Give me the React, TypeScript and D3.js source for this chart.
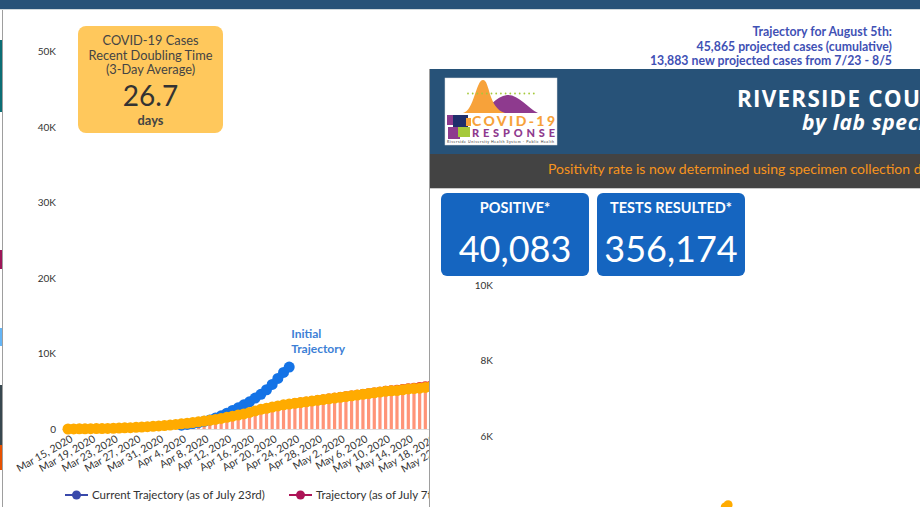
import React, { useRef, useEffect } from 'react';
import * as d3 from 'd3';

// left chart: cumulative cases per day from Mar 15, 2020
const xTickLabels = [
  'Mar 15, 2020', 'Mar 19, 2020', 'Mar 23, 2020', 'Mar 27, 2020', 'Mar 31, 2020',
  'Apr 4, 2020', 'Apr 8, 2020', 'Apr 12, 2020', 'Apr 16, 2020', 'Apr 20, 2020',
  'Apr 24, 2020', 'Apr 28, 2020', 'May 2, 2020', 'May 6, 2020', 'May 10, 2020',
  'May 14, 2020', 'May 18, 2020', 'May 22, 2020'
];
const yTickValues = [0, 10000, 20000, 30000, 40000, 50000];

const cumulativeCases = [
  0, 10, 20, 30, 40, 50, 60, 80, 100, 120,
  150, 180, 220, 260, 300, 350, 400, 460, 520, 600,
  680, 760, 850, 950, 1050, 1150, 1270, 1400, 1550, 1700,
  1850, 2000, 2200, 2400, 2600, 2750, 2900, 3050, 3200, 3300,
  3400, 3500, 3600, 3700, 3800, 3900, 4000, 4100, 4200, 4300,
  4400, 4500, 4600, 4700, 4800, 4900, 5000, 5050, 5100, 5200,
  5300, 5350, 5400, 5500, 5600, 5650, 5700
];

const initialStart = 20;
const initialTrajectory = [
  500, 600, 720, 860, 1020, 1200, 1450, 1750, 2100, 2450,
  2800, 3200, 3600, 4100, 4600, 5200, 5900, 6700, 7500, 8200
];

const july7Start = 40;
const july7Trajectory = [
  3400, 3500, 3600, 3700, 3800, 3900, 4050, 4150, 4250, 4350,
  4450, 4550, 4650, 4750, 4850, 4950, 5050, 5120, 5200, 5300,
  5400, 5470, 5550, 5650, 5750, 5850, 5950
];

const legendNames = ['Current Trajectory (as of July 23rd)', 'Trajectory (as of July 7th)'];
const legendColors = ['#3949ab', '#ad1457'];

const projectionLines = [
  'Trajectory for August 5th:',
  '45,865 projected cases (cumulative)',
  '13,883 new projected cases from 7/23 - 8/5'
];
const doublingLines = ['COVID-19 Cases', 'Recent Doubling Time', '(3-Day Average)'];
const doublingDays = '26.7';

// overlay dashboard
const kpiLabels = ['POSITIVE*', 'TESTS RESULTED*'];
const kpiValues = [40083, 356174];
const testTicks = [6000, 8000, 10000];
const testDates = ['2020-05-20', '2020-05-21'];
const testValues = [4120, 4180];

const FONT = 'Lato, "Open Sans", sans-serif';

const App = () => {
  const ref = useRef<SVGSVGElement>(null);

  useEffect(() => {
    const svg = d3.select(ref.current);
    svg.selectAll('*').remove();

    // background page
    svg.append('rect').attr('width', 920).attr('height', 507).attr('fill', '#fff');
    svg.append('rect').attr('width', 920).attr('height', 9).attr('fill', '#275278');
    svg.append('line').attr('x1', 0).attr('x2', 920).attr('y1', 9.5).attr('y2', 9.5)
      .attr('stroke', '#cfd8dc');

    const slivers: [number, number, string][] = [
      [40, 112, '#0b6e75'], [250, 269, '#9c1558'], [328, 346, '#64b5f6'],
      [385, 445, '#37474f'], [445, 470, '#e65100']
    ];
    slivers.forEach(([a, b, c]) => {
      svg.append('rect').attr('x', 0).attr('y', a).attr('width', 2).attr('height', b - a).attr('fill', c);
    });
    svg.append('line').attr('x1', 2.5).attr('x2', 2.5).attr('y1', 10).attr('y2', 507)
      .attr('stroke', '#9e9e9e');

    // scales
    const parse = d3.timeParse('%b %d, %Y');
    const start = parse(xTickLabels[0]) as Date;
    const dayDate = (i: number) => d3.timeDay.offset(start, i);
    const x = d3.scaleTime()
      .domain([start, parse('May 18, 2020') as Date])
      .range([68, 431]);
    const y = d3.scaleLinear().domain([0, 50000]).range([429, 51.5]);

    const chart = svg.append('g');

    // y axis
    const yAxis = chart.append('g')
      .attr('transform', 'translate(56,0)')
      .call(d3.axisLeft(y).tickValues(yTickValues).tickSize(0).tickPadding(0)
        .tickFormat(d => (+d === 0 ? '0' : d3.format('~s')(+d).replace('k', 'K'))));
    yAxis.select('.domain').remove();
    yAxis.selectAll('text').attr('font-family', FONT).attr('font-size', 10).attr('fill', '#333');

    chart.append('line').attr('x1', 62).attr('x2', 431).attr('y1', 429.5).attr('y2', 429.5)
      .attr('stroke', '#ddd');

    // x axis
    const xAxis = chart.append('g')
      .attr('transform', 'translate(0,429)')
      .call(d3.axisBottom(x).tickValues(xTickLabels.map(s => parse(s) as Date))
        .tickSize(0).tickFormat(d => d3.timeFormat('%b %-d, %Y')(d as Date)));
    xAxis.select('.domain').remove();
    xAxis.selectAll('text')
      .attr('y', 0).attr('dy', 0)
      .attr('text-anchor', 'end')
      .attr('transform', 'translate(5,12) rotate(-30)')
      .attr('font-family', FONT).attr('font-size', 10.5).attr('fill', '#333');

    // bars
    chart.append('g').selectAll('rect')
      .data(cumulativeCases)
      .enter().append('rect')
      .attr('x', (d, i) => x(dayDate(i)) - 1.6)
      .attr('width', 3.2)
      .attr('y', d => y(d))
      .attr('height', d => 429 - y(d))
      .attr('fill', '#ff9478');

    const line = d3.line<[number, number]>()
      .x(d => x(dayDate(d[0])))
      .y(d => y(d[1]));

    // July 7 trajectory
    const july7Pts: [number, number][] = july7Trajectory.map((v, i) => [july7Start + i, v]);
    chart.append('path').datum(july7Pts).attr('d', line)
      .attr('fill', 'none').attr('stroke', '#e53935').attr('stroke-width', 2);
    chart.append('g').selectAll('circle').data(july7Pts).enter().append('circle')
      .attr('cx', d => x(dayDate(d[0]))).attr('cy', d => y(d[1])).attr('r', 5)
      .attr('fill', '#e53935');

    // initial trajectory
    const initPts: [number, number][] = initialTrajectory.map((v, i) => [initialStart + i, v]);
    chart.append('path').datum(initPts).attr('d', line)
      .attr('fill', 'none').attr('stroke', '#1473e6').attr('stroke-width', 2);
    chart.append('g').selectAll('circle').data(initPts).enter().append('circle')
      .attr('cx', d => x(dayDate(d[0]))).attr('cy', d => y(d[1])).attr('r', 5.5)
      .attr('fill', '#1473e6');

    // current trajectory (cumulative)
    const curPts: [number, number][] = cumulativeCases.map((v, i) => [i, v]);
    chart.append('path').datum(curPts).attr('d', line)
      .attr('fill', 'none').attr('stroke', '#ffab00').attr('stroke-width', 2);
    chart.append('g').selectAll('circle').data(curPts).enter().append('circle')
      .attr('cx', d => x(dayDate(d[0]))).attr('cy', d => y(d[1])).attr('r', 5.5)
      .attr('fill', '#ffab00');

    const lastInit = initPts[initPts.length - 1];
    ['Initial', 'Trajectory'].forEach((t, i) => {
      chart.append('text').attr('x', x(dayDate(lastInit[0])) + 2).attr('y', y(lastInit[1]) - 29 + i * 15)
        .attr('font-family', FONT).attr('font-size', 12).attr('font-weight', 700)
        .attr('fill', '#3d7fd6').text(t);
    });

    // legend
    const legendX = [65, 289];
    legendNames.forEach((name, i) => {
      const g = chart.append('g').attr('transform', `translate(${legendX[i]},495)`);
      g.append('line').attr('x1', 0).attr('x2', 23).attr('stroke', legendColors[i]).attr('stroke-width', 2);
      g.append('circle').attr('cx', 11.5).attr('r', 4.5).attr('fill', legendColors[i]);
      g.append('text').attr('x', 27).attr('y', 4).attr('font-family', FONT).attr('font-size', 11.5)
        .attr('fill', '#333').text(name);
    });

    // doubling time card
    const card = svg.append('g');
    card.append('rect').attr('x', 78).attr('y', 26).attr('width', 145).attr('height', 107).attr('rx', 8)
      .attr('fill', '#ffc85c');
    doublingLines.forEach((t, i) => {
      card.append('text').attr('x', 150.5).attr('y', 45 + i * 14.5).attr('text-anchor', 'middle')
        .attr('font-family', FONT).attr('font-size', 12.8).attr('fill', '#444').text(t);
    });
    card.append('text').attr('x', 150.5).attr('y', 106).attr('text-anchor', 'middle')
      .attr('font-family', FONT).attr('font-size', 28).attr('fill', '#333').text(doublingDays);
    card.append('text').attr('x', 150.5).attr('y', 124.5).attr('text-anchor', 'middle')
      .attr('font-family', FONT).attr('font-size', 12.8).attr('font-weight', 700).attr('fill', '#444').text('days');

    // projection text
    projectionLines.forEach((t, i) => {
      svg.append('text').attr('x', 892).attr('y', 36 + i * 14.5).attr('text-anchor', 'end')
        .attr('font-family', FONT).attr('font-size', 12.3).attr('font-weight', 700)
        .attr('fill', '#3f51b5').text(t);
    });

    // overlay dashboard
    const ov = svg.append('g');
    ov.append('rect').attr('x', 430).attr('y', 69).attr('width', 490).attr('height', 438).attr('fill', '#fff');
    ov.append('rect').attr('x', 430).attr('y', 69).attr('width', 490).attr('height', 85).attr('fill', '#275278');
    ov.append('rect').attr('x', 430).attr('y', 154).attr('width', 490).attr('height', 34).attr('fill', '#434343');
    ov.append('line').attr('x1', 430).attr('x2', 920).attr('y1', 188.5).attr('y2', 188.5).attr('stroke', '#c8c8c8');
    ov.append('line').attr('x1', 429.5).attr('x2', 429.5).attr('y1', 69).attr('y2', 507).attr('stroke', '#9e9e9e');

    // logo
    const logo = ov.append('g');
    logo.append('rect').attr('x', 445).attr('y', 78).attr('width', 112).attr('height', 67).attr('fill', '#fff')
      .attr('stroke', '#ddd').attr('stroke-width', 0.5);
    logo.append('path').attr('d', 'M478,113 C488,110 496,96 507,95 C518,94 528,108 538,113 Z').attr('fill', '#8e3a8e');
    logo.append('path').attr('d', 'M463,113 C474,111 476,80 483,80 C490,80 488,108 505,113 Z').attr('fill', '#f7a23a');
    for (let i = 0; i < 15; i++) {
      logo.append('circle').attr('cx', 468 + i * 4.7).attr('cy', 93.5).attr('r', 0.9).attr('fill', '#a5c93a');
    }
    logo.append('rect').attr('x', 447).attr('y', 115).attr('width', 8).attr('height', 10).attr('fill', '#8e3a8e');
    logo.append('rect').attr('x', 453).attr('y', 115).attr('width', 15).attr('height', 12).attr('fill', '#1f2f6b');
    logo.append('rect').attr('x', 448).attr('y', 127).attr('width', 12).attr('height', 12).attr('fill', '#8e3a8e');
    logo.append('rect').attr('x', 458).attr('y', 127).attr('width', 12).attr('height', 10).attr('fill', '#a5c93a');
    logo.append('rect').attr('x', 466).attr('y', 118).attr('width', 5).attr('height', 8).attr('fill', '#f7a23a');
    logo.append('text').attr('x', 472).attr('y', 126).attr('font-family', FONT).attr('font-weight', 900)
      .attr('font-size', 14).attr('fill', '#f7a23a').attr('textLength', 83).text('COVID-19');
    logo.append('text').attr('x', 472).attr('y', 136.5).attr('font-family', FONT).attr('font-weight', 900)
      .attr('font-size', 11).attr('fill', '#8e3a8e').attr('textLength', 83).text('RESPONSE');
    logo.append('text').attr('x', 447).attr('y', 142.5).attr('font-family', FONT)
      .attr('font-size', 3.6).attr('fill', '#333').attr('textLength', 107)
      .text('Riverside University Health System - Public Health');

    ov.append('text').attr('x', 737).attr('y', 106.5).attr('font-family', '"Open Sans", sans-serif')
      .attr('font-weight', 700).attr('font-size', 22.5).attr('letter-spacing', 1.2).attr('fill', '#fff')
      .text('RIVERSIDE COUNTY');
    ov.append('text').attr('x', 802).attr('y', 130).attr('font-family', '"Open Sans", sans-serif')
      .attr('font-weight', 700).attr('font-style', 'italic').attr('font-size', 21).attr('letter-spacing', 0.6)
      .attr('fill', '#fff')
      .text('by lab specimen collection date');
    ov.append('text').attr('x', 548).attr('y', 174).attr('font-family', FONT)
      .attr('font-size', 14).attr('fill', '#f7941d')
      .text('Positivity rate is now determined using specimen collection date');

    // KPI boxes
    const kpiX = [441, 597];
    kpiLabels.forEach((lab, i) => {
      const g = ov.append('g').attr('transform', `translate(${kpiX[i]},193)`);
      g.append('rect').attr('width', 148).attr('height', 83).attr('rx', 6).attr('fill', '#1565c0');
      g.append('text').attr('x', 74).attr('y', 20).attr('text-anchor', 'middle').attr('font-family', FONT)
        .attr('font-weight', 700).attr('font-size', 14.5).attr('fill', '#fff').text(lab);
      g.append('text').attr('x', 74).attr('y', 69).attr('text-anchor', 'middle').attr('font-family', FONT)
        .attr('font-size', 36).attr('fill', '#fff').text(d3.format(',')(kpiValues[i]));
    });

    // second chart (mostly out of view)
    const yT = d3.scaleLinear().domain([6000, 10000]).range([436, 285]);
    const xT = d3.scaleTime()
      .domain([new Date(2020, 2, 1), new Date(2020, 6, 22)])
      .range([497, 905]);
    const yTAxis = ov.append('g').attr('transform', 'translate(493,0)')
      .call(d3.axisLeft(yT).tickValues(testTicks).tickSize(0).tickPadding(0)
        .tickFormat(d => d3.format('~s')(+d).replace('k', 'K')));
    yTAxis.select('.domain').remove();
    yTAxis.selectAll('text').attr('font-family', FONT).attr('font-size', 10).attr('fill', '#333');
    ov.append('g').selectAll('circle').data(testDates).enter().append('circle')
      .attr('cx', d => xT(d3.timeParse('%Y-%m-%d')(d) as Date))
      .attr('cy', (d, i) => yT(testValues[i]))
      .attr('r', 4.5).attr('fill', '#ffab00');
  }, []);

  return (
    <div style={{ position: 'fixed', left: 0, top: 0 }}>
      <svg ref={ref} width={920} height={507} style={{ display: 'block' }}></svg>
    </div>
  );
};

export default App;
